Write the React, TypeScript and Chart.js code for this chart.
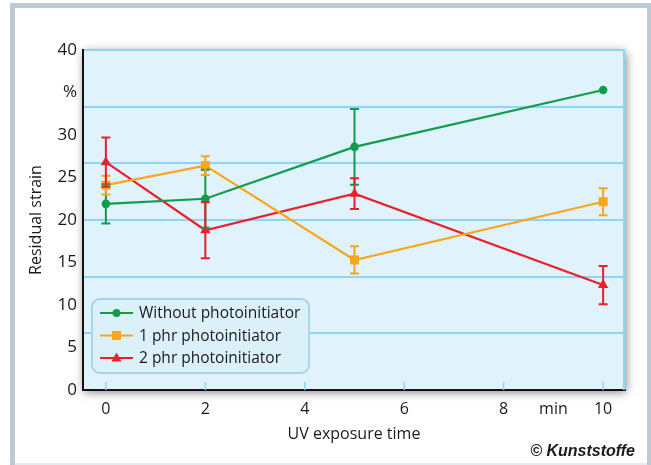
import React, { useEffect, useRef } from 'react';
import { Chart, registerables } from 'chart.js';

Chart.register(...registerables);

const seriesLabels = ['Without photoinitiator', '1 phr photoinitiator', '2 phr photoinitiator'];
const times = [0, 2, 5, 10];
const withoutValues = [21.9, 22.5, 28.6, 35.3];
const withoutErrors = [2.3, 3.4, 4.45, 0];
const phr1Values = [24.1, 26.4, 15.3, 22.15];
const phr1Errors = [1.1, 1.1, 1.6, 1.6];
const phr2Values = [26.8, 18.8, 23.1, 12.35];
const phr2Errors = [2.9, 3.3, 1.8, 2.25];

const yTickValues = [0, 5, 10, 15, 20, 25, 30, 35, 40];
const yTickLabels = ['0', '5', '10', '15', '20', '25', '30', '%', '40'];
const xTickValues = [0, 2, 4, 6, 8, 9, 10];
const xTickLabels = ['0', '2', '4', '6', '8', 'min', '10'];
const xTickMarks = [0, 2, 4, 6, 8, 10];
const gridValues = [6.667, 13.333, 20, 26.667, 33.333, 40];

const GREEN = '#109d4b';
const ORANGE = '#f8a61c';
const RED = '#e8202b';
const GRID = '#8fd4f2';
const TEXT = '#1a1a1a';
const FONT = "'Open Sans', 'Noto Sans', sans-serif";

const errorSets = [withoutErrors, phr1Errors, phr2Errors];

const framePlugin = {
  id: 'frame',
  beforeDraw(chart: any) {
    const { ctx, width, height, chartArea: a } = chart;
    ctx.save();
    ctx.fillStyle = '#ffffff';
    ctx.fillRect(0, 0, width, height);
    ctx.fillStyle = '#bccad5';
    ctx.fillRect(10, 3, width - 10, 5);
    ctx.fillRect(10, 3, 5, height - 3);
    ctx.fillRect(647, 3, width - 647, height - 3);
    ctx.fillStyle = '#e4eaef';
    ctx.fillRect(15, 463, 632, 2);
    ctx.shadowColor = 'rgba(0,0,0,0.5)';
    ctx.shadowBlur = 9;
    ctx.shadowOffsetX = 1;
    ctx.shadowOffsetY = 2;
    ctx.fillStyle = '#e0f2fb';
    ctx.fillRect(a.left, a.top, a.right - a.left, a.bottom - a.top);
    ctx.restore();
  },
  beforeDatasetsDraw(chart: any) {
    const { ctx, chartArea: a, scales } = chart;
    ctx.save();
    ctx.strokeStyle = GRID;
    ctx.lineWidth = 2;
    ctx.beginPath();
    ctx.moveTo(a.right - 1, a.top);
    ctx.lineTo(a.right - 1, a.bottom);
    ctx.stroke();
    ctx.lineWidth = 1.5;
    xTickMarks.forEach((v) => {
      const px = scales.x.getPixelForValue(v);
      ctx.beginPath();
      ctx.moveTo(px, a.bottom - 8);
      ctx.lineTo(px, a.bottom);
      ctx.stroke();
    });
    ctx.restore();
  },
  afterDatasetsDraw(chart: any) {
    const { ctx, scales } = chart;
    ctx.save();
    chart.data.datasets.forEach((ds: any, i: number) => {
      const errs = errorSets[i];
      ctx.strokeStyle = ds.borderColor;
      ctx.lineWidth = 2;
      ds.data.forEach((p: any, j: number) => {
        const e = errs[j];
        if (!e) return;
        const px = scales.x.getPixelForValue(p.x);
        const top = scales.y.getPixelForValue(p.y + e);
        const bot = scales.y.getPixelForValue(p.y - e);
        ctx.beginPath();
        ctx.moveTo(px, top);
        ctx.lineTo(px, bot);
        ctx.moveTo(px - 4.5, top);
        ctx.lineTo(px + 4.5, top);
        ctx.moveTo(px - 4.5, bot);
        ctx.lineTo(px + 4.5, bot);
        ctx.stroke();
      });
    });
    ctx.restore();
  },
  afterDraw(chart: any) {
    const { ctx, chartArea: a } = chart;
    ctx.save();
    const bx = a.left + 9;
    const by = a.bottom - 91;
    const bw = 217;
    const bh = 74;
    ctx.beginPath();
    ctx.roundRect(bx, by, bw, bh, 8);
    ctx.fillStyle = '#dcf0fa';
    ctx.fill();
    ctx.strokeStyle = '#a9d3ef';
    ctx.lineWidth = 2;
    ctx.stroke();
    chart.data.datasets.forEach((ds: any, i: number) => {
      const cy = by + 14 + i * 22.5;
      ctx.strokeStyle = ds.borderColor;
      ctx.fillStyle = ds.borderColor;
      ctx.lineWidth = 2.2;
      ctx.beginPath();
      ctx.moveTo(bx + 8, cy);
      ctx.lineTo(bx + 41, cy);
      ctx.stroke();
      const mx = bx + 24.5;
      ctx.beginPath();
      if (ds.pointStyle === 'circle') {
        ctx.arc(mx, cy, 4, 0, Math.PI * 2);
      } else if (ds.pointStyle === 'rect') {
        ctx.rect(mx - 4.5, cy - 4.5, 9, 9);
      } else {
        ctx.moveTo(mx, cy - 5.5);
        ctx.lineTo(mx + 5, cy + 3.5);
        ctx.lineTo(mx - 5, cy + 3.5);
        ctx.closePath();
      }
      ctx.fill();
      ctx.fillStyle = TEXT;
      ctx.font = `15.5px ${FONT}`;
      ctx.textBaseline = 'middle';
      ctx.textAlign = 'left';
      ctx.fillText(ds.label, bx + 47, cy + 1);
    });
    ctx.font = "bold italic 16px 'Liberation Sans Narrow', 'Liberation Sans', sans-serif";
    ctx.fillStyle = TEXT;
    ctx.textAlign = 'right';
    ctx.textBaseline = 'middle';
    ctx.fillText('© Kunststoffe', 635, 452);
    ctx.restore();
  },
};

export default function App() {
  const ref = useRef<HTMLCanvasElement | null>(null);
  useEffect(() => {
    if (!ref.current) return;
    const mk = (values: number[]) => times.map((t, i) => ({ x: t, y: values[i] }));
    const chart = new Chart(ref.current, {
      type: 'line',
      data: {
        datasets: [
          { label: seriesLabels[0], data: mk(withoutValues), borderColor: GREEN, backgroundColor: GREEN, pointStyle: 'circle', pointRadius: 4.3, pointBorderWidth: 0, borderWidth: 2.2 },
          { label: seriesLabels[1], data: mk(phr1Values), borderColor: ORANGE, backgroundColor: ORANGE, pointStyle: 'rect', pointRadius: 6.4, pointBorderWidth: 0, borderWidth: 2.2 },
          { label: seriesLabels[2], data: mk(phr2Values), borderColor: RED, backgroundColor: RED, pointStyle: 'triangle', pointRadius: 6, pointBorderWidth: 0, borderWidth: 2.2 },
        ],
      } as any,
      options: {
        responsive: false,
        animation: false,
        layout: { padding: { top: 50, right: 26, left: 0, bottom: 0 } },
        plugins: { legend: { display: false }, tooltip: { enabled: false } },
        scales: {
          x: {
            type: 'linear',
            min: -0.46,
            max: 10.44,
            afterBuildTicks: (s: any) => { s.ticks = xTickValues.map((v) => ({ value: v })); },
            ticks: { callback: (_v: any, i: number) => xTickLabels[i], font: { family: FONT, size: 16 }, color: TEXT, padding: 10, autoSkip: false, maxRotation: 0 },
            grid: { display: false, drawTicks: false },
            border: { color: '#111111', width: 2 },
            title: { display: true, text: 'UV exposure time', font: { family: FONT, size: 16 }, color: TEXT, padding: { top: 0, bottom: 21 } },
            afterFit: (s: any) => { s.height = 75; },
          },
          y: {
            type: 'linear',
            min: 0,
            max: 40,
            afterBuildTicks: (s: any) => { s.ticks = yTickValues.map((v) => ({ value: v })); },
            ticks: { callback: (_v: any, i: number) => yTickLabels[i], font: { family: FONT, size: 17 }, color: TEXT, padding: 6 },
            grid: { display: false, drawTicks: false },
            border: { color: '#111111', width: 2 },
            title: { display: true, text: 'Residual strain', font: { family: FONT, size: 16 }, color: TEXT, padding: { top: 27, bottom: 0 } },
            afterFit: (s: any) => { s.width = 83; },
          },
          yg: {
            type: 'linear',
            position: 'right',
            min: 0,
            max: 40,
            afterBuildTicks: (s: any) => { s.ticks = gridValues.map((v) => ({ value: v })); },
            ticks: { display: false },
            grid: { color: GRID, lineWidth: 2, drawTicks: false },
            border: { display: false },
            afterFit: (s: any) => { s.width = 0; },
          },
        },
      } as any,
      plugins: [framePlugin],
    });
    return () => chart.destroy();
  }, []);
  return (
    <div style={{ position: 'absolute', left: 0, top: 0, width: 651, height: 465 }}>
      <canvas ref={ref} width={651} height={465} style={{ display: 'block' }} />
    </div>
  );
}
